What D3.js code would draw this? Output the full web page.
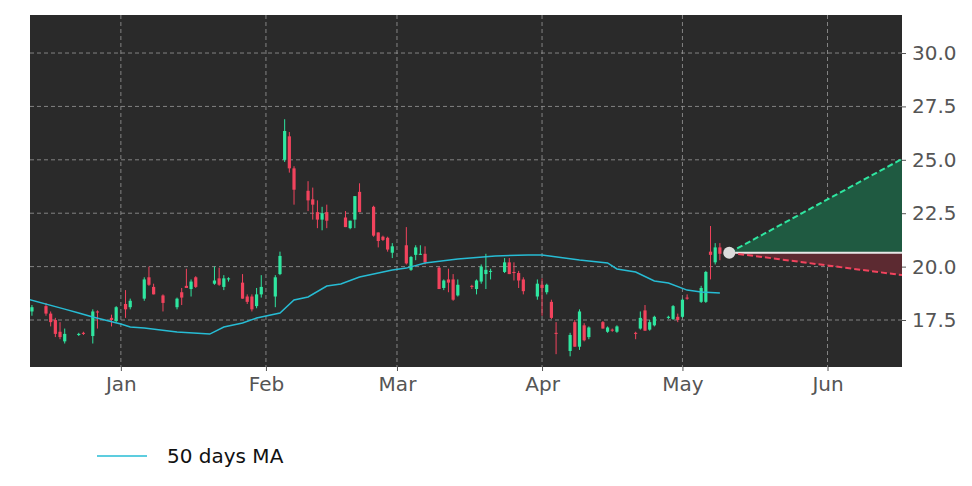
<!DOCTYPE html>
<html><head><meta charset="utf-8">
<script src="https://cdn.jsdelivr.net/npm/d3@7"></script>
<style>body{margin:0;background:#fff}</style>
</head><body><svg id="chart" width="972" height="486"></svg>
<script>
// candles: date, open, high, low, close
const candles = [
["2021-12-13",17.9,18.2,17.7,18.1],["2021-12-16",18.15,18.3,17.7,17.8],["2021-12-17",17.8,17.9,17.2,17.4],
["2021-12-18",17.5,17.6,16.7,16.85],["2021-12-19",16.95,17.4,16.6,16.7],["2021-12-20",16.5,17.1,16.4,16.85],
["2021-12-23",16.8,16.9,16.75,16.85],["2021-12-24",16.9,16.95,16.8,16.85],["2021-12-26",16.75,18.0,16.4,17.9],
["2021-12-27",17.9,17.95,17.1,17.85],["2021-12-30",17.6,17.75,17.2,17.5],["2021-12-31",17.45,18.15,17.4,18.1],
["2022-01-02",18.25,18.9,17.6,18.0],["2022-01-03",18.1,18.5,18.0,18.4],["2022-01-06",18.5,19.5,18.4,19.4],
["2022-01-07",19.5,20.0,19.1,19.15],["2022-01-08",19.05,19.2,18.7,18.7],["2022-01-10",18.65,18.7,17.9,18.3],
["2022-01-13",18.1,18.55,18.0,18.5],["2022-01-14",18.8,19.0,18.2,18.55],["2022-01-15",19.1,19.9,19.0,19.0],
["2022-01-16",18.95,19.4,18.6,19.3],["2022-01-17",19.5,19.55,19.0,19.05],["2022-01-21",19.2,20.0,19.15,19.35],
["2022-01-22",19.45,19.95,19.1,19.15],["2022-01-23",19.05,19.6,18.9,19.45],["2022-01-24",19.4,19.5,19.3,19.45],
["2022-01-27",19.25,19.65,18.5,18.5],["2022-01-28",18.6,18.7,18.25,18.35],["2022-01-29",18.6,18.7,17.9,18.0],
["2022-01-30",18.15,19.0,18.05,18.7],["2022-01-31",18.7,19.6,18.55,19.05],["2022-02-03",18.6,19.6,18.1,19.5],
["2022-02-04",19.65,20.7,19.6,20.5],["2022-02-05",25.0,26.9,24.9,26.35],["2022-02-06",26.1,26.3,24.4,24.6],
["2022-02-07",24.6,24.7,22.9,23.6],["2022-02-10",23.55,24.0,22.6,23.1],["2022-02-11",23.15,23.7,22.2,22.9],
["2022-02-12",22.55,23.1,21.8,22.2],["2022-02-13",22.2,22.8,21.7,22.5],["2022-02-14",22.55,22.9,21.8,22.15],
["2022-02-18",22.3,22.6,21.85,21.85],["2022-02-19",21.8,22.15,21.75,22.15],["2022-02-20",22.2,23.3,21.8,23.3],
["2022-02-21",23.5,23.9,22.55,22.55],["2022-02-24",22.8,22.85,21.4,21.45],["2022-02-25",21.6,21.6,20.9,21.2],
["2022-02-26",21.4,21.45,21.2,21.25],["2022-02-27",21.35,21.4,20.7,20.8],["2022-02-28",20.65,21.1,20.4,20.95],
["2022-03-03",21.0,21.85,20.1,20.15],["2022-03-04",19.85,20.5,19.8,20.45],["2022-03-05",20.55,21.0,20.3,20.9],
["2022-03-06",20.6,21.0,20.55,20.6],["2022-03-07",20.6,20.95,20.1,20.2],["2022-03-10",19.95,20.0,18.95,18.95],
["2022-03-11",19.0,19.4,18.9,19.35],["2022-03-12",19.4,19.9,18.8,19.25],["2022-03-13",19.4,19.65,18.4,18.45],
["2022-03-14",18.65,19.4,18.6,19.15],["2022-03-17",19.1,19.15,18.95,19.05],["2022-03-18",18.95,19.4,18.7,19.35],
["2022-03-19",19.3,20.1,19.2,20.0],["2022-03-20",19.65,20.6,18.95,19.85],["2022-03-21",19.8,19.9,19.4,19.8],
["2022-03-24",19.75,20.4,19.7,20.2],["2022-03-25",20.2,20.4,19.65,19.65],["2022-03-26",19.75,20.2,19.35,19.7],
["2022-03-27",19.7,19.8,19.0,19.35],["2022-03-28",19.4,19.5,18.7,18.85],["2022-03-31",18.6,19.4,18.45,19.2],
["2022-04-01",19.15,19.45,17.7,19.0],["2022-04-02",18.8,19.2,18.7,19.15],["2022-04-03",18.35,18.45,17.55,17.6],
["2022-04-04",16.9,17.4,15.9,16.85],["2022-04-07",16.05,16.9,15.8,16.8],["2022-04-08",17.4,17.5,16.25,16.25],
["2022-04-09",16.25,18.0,16.1,17.9],["2022-04-10",17.25,17.35,16.5,16.55],["2022-04-11",16.7,17.2,16.6,17.15],
["2022-04-14",17.4,17.45,17.1,17.1],["2022-04-15",16.95,17.2,16.9,17.15],["2022-04-16",17.05,17.1,16.95,17.0],
["2022-04-17",16.95,17.25,16.9,17.2],["2022-04-21",16.9,16.95,16.6,16.85],["2022-04-22",17.1,17.9,17.05,17.6],
["2022-04-23",17.95,18.2,17.0,17.0],["2022-04-24",17.05,17.5,17.0,17.4],["2022-04-25",17.25,17.7,17.2,17.65],
["2022-04-28",17.6,17.7,17.55,17.65],["2022-04-29",17.55,18.2,17.5,18.15],["2022-04-30",17.65,17.8,17.4,17.5],
["2022-05-01",17.65,18.5,17.6,18.45],["2022-05-02",18.55,18.7,18.45,18.5],["2022-05-05",18.35,19.1,18.3,19.0],
["2022-05-06",18.35,19.8,18.3,19.75],["2022-05-07",20.7,21.9,19.4,20.55],["2022-05-08",20.2,21.1,20.1,20.9],
["2022-05-09",20.9,21.1,20.3,20.6]
];
// 50 days moving average
const maDates = ["2021-12-12","2021-12-20","2021-12-23","2021-12-26","2022-01-01","2022-01-03","2022-01-06","2022-01-13",
"2022-01-20","2022-01-23","2022-01-27","2022-01-30","2022-02-04","2022-02-07","2022-02-10","2022-02-14","2022-02-17",
"2022-02-21","2022-02-28","2022-03-03","2022-03-07","2022-03-14","2022-03-22","2022-03-29","2022-04-01","2022-04-09",
"2022-04-15","2022-04-17","2022-04-21","2022-04-25","2022-04-28","2022-05-02","2022-05-05","2022-05-09"];
const maValues = [18.48,18.01,17.83,17.64,17.31,17.17,17.13,16.94,16.84,17.17,17.36,17.59,17.83,18.44,18.58,19.09,19.19,
19.51,19.84,19.93,20.17,20.36,20.5,20.54,20.54,20.31,20.17,19.89,19.75,19.33,19.23,18.9,18.81,18.76];
// projection
const projStart = "2022-05-11", projEnd = "2022-06-17";
const projBase = 20.65, projHigh = 25.05, projLow = 19.6;
const yTicks = [17.5, 20.0, 22.5, 25.0, 27.5, 30.0];
const xTicks = ["2022-01-01","2022-02-01","2022-03-01","2022-04-01","2022-05-01","2022-06-01"];

const parse = d3.utcParse("%Y-%m-%d");
const svg = d3.select("#chart");
const L = 30, R = 902, T = 15, B = 367;
const x = d3.scaleUtc().domain([new Date(Date.UTC(2021,11,12,14)), new Date(Date.UTC(2022,5,16,22))]).range([L, R]);
const y = d3.scaleLinear().domain([15.3, 31.78]).range([B, T]);

svg.append("rect").attr("x", L).attr("y", T).attr("width", R - L).attr("height", B - T).attr("fill", "#2a2a2a");
svg.append("clipPath").attr("id", "c").append("rect").attr("x", L).attr("y", T).attr("width", R - L).attr("height", B - T);

const grid = svg.append("g").attr("stroke", "#9a9a9a").attr("stroke-dasharray", "4,3").attr("stroke-width", 0.8);
yTicks.forEach(v => grid.append("line").attr("x1", L).attr("x2", R).attr("y1", y(v)).attr("y2", y(v)));
xTicks.forEach(d => grid.append("line").attr("y1", T).attr("y2", B).attr("x1", x(parse(d))).attr("x2", x(parse(d))));

const plot = svg.append("g").attr("clip-path", "url(#c)");
const green = "#2fe6a0", red = "#f2435d";

// projection cone
const p0 = parse(projStart), p1 = parse(projEnd);
const cone = d3.area().x(d => x(d[0])).y0(y(projBase)).y1(d => y(d[1]));
plot.append("path").attr("fill", "#1f5a41").attr("d", cone([[p0, projBase], [p1, projHigh]]));
plot.append("path").attr("fill", "#5c2a31").attr("d", cone([[p0, projBase], [p1, projLow]]));
plot.append("line").attr("x1", x(p0)).attr("x2", x(p1)).attr("y1", y(projBase)).attr("y2", y(projBase))
  .attr("stroke", "#e8e8e8").attr("stroke-width", 2);
plot.append("line").attr("x1", x(p0)).attr("x2", x(p1)).attr("y1", y(projBase)).attr("y2", y(projHigh))
  .attr("stroke", green).attr("stroke-width", 2).attr("stroke-dasharray", "6,3");
plot.append("line").attr("x1", x(p0)).attr("x2", x(p1)).attr("y1", y(projBase)).attr("y2", y(projLow))
  .attr("stroke", red).attr("stroke-width", 2).attr("stroke-dasharray", "6,3");

// candles
const bw = 3.2;
candles.forEach(([d, o, h, l, c]) => {
  const cx = x(parse(d)), col = c >= o ? green : red;
  plot.append("line").attr("x1", cx).attr("x2", cx).attr("y1", y(h)).attr("y2", y(l)).attr("stroke", col).attr("stroke-width", 1);
  plot.append("rect").attr("x", cx - bw / 2).attr("width", bw)
    .attr("y", y(Math.max(o, c))).attr("height", Math.max(1, Math.abs(y(o) - y(c)))).attr("fill", col);
});

// MA
plot.append("path").attr("fill", "none").attr("stroke", "#27bcd4").attr("stroke-width", 1.5)
  .attr("d", d3.line().x(d => x(parse(d))).y((d, i) => y(maValues[i]))(maDates));

plot.append("circle").attr("cx", x(p0)).attr("cy", y(projBase)).attr("r", 6).attr("fill", "#dcdcdc");

// axes
const fnt = "DejaVu Sans, sans-serif";
const yAx = svg.append("g").attr("transform", `translate(${R},0)`)
  .call(d3.axisRight(y).tickValues(yTicks).tickFormat(d3.format(".1f")).tickSize(4).tickPadding(6));
const xAx = svg.append("g").attr("transform", `translate(0,${B})`)
  .call(d3.axisBottom(x).tickValues(xTicks.map(parse)).tickFormat(d3.utcFormat("%b")).tickSize(4).tickPadding(6));
[yAx, xAx].forEach(a => {
  a.select(".domain").remove();
  a.selectAll("line").attr("stroke", "#555");
  a.selectAll("text").attr("fill", "#555").style("font-family", fnt).style("font-size", "20px");
});

// legend
svg.append("line").attr("x1", 97).attr("x2", 147).attr("y1", 456).attr("y2", 456).attr("stroke", "#27bcd4").attr("stroke-width", 1.5);
svg.append("text").attr("x", 167).attr("y", 463).text("50 days MA").attr("fill", "#111")
  .style("font-family", fnt).style("font-size", "20px");
</script></body></html>
